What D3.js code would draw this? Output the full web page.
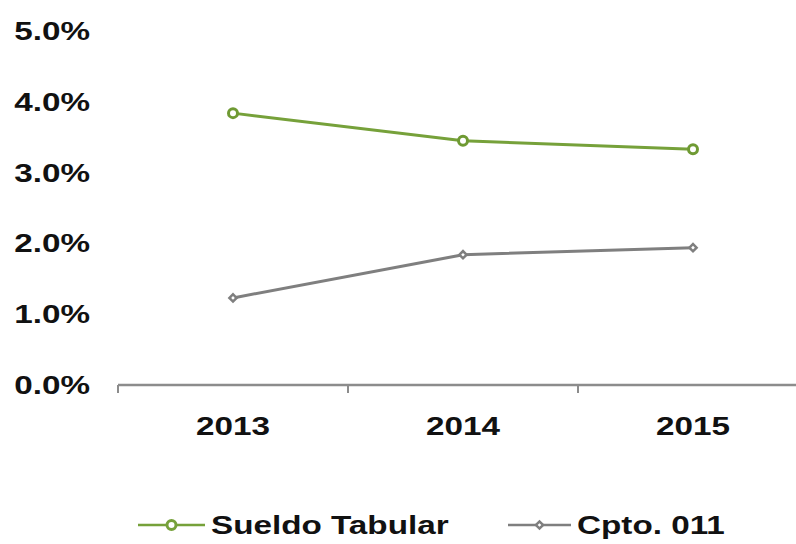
<!DOCTYPE html>
<html>
<head>
<meta charset="utf-8">
<script src="https://cdn.jsdelivr.net/npm/d3@7"></script>
<style>
  body { margin: 0; background: #fff; }
  text { font-family: "Liberation Sans", Arial, sans-serif; font-weight: bold; fill: #111; }
</style>
</head>
<body>
<script>
var years = ["2013", "2014", "2015"];
var sueldoTabular = [3.84, 3.45, 3.33];
var cpto011 = [1.23, 1.84, 1.94];
var yTicks = [0, 1, 2, 3, 4, 5];
var seriesNames = ["Sueldo Tabular", "Cpto. 011"];

var W = 796, H = 544;
var stretch = 1.33; // the picture's text is drawn wide

var svg = d3.select("body").append("svg")
    .attr("width", W)
    .attr("height", H);

var x = d3.scaleBand().domain(years).range([118, 808]);
var y = d3.scaleLinear().domain([0, 5]).range([385, 31]);

// y labels, no axis line
svg.selectAll("text.ylab")
    .data(yTicks)
    .enter().append("text")
    .attr("class", "ylab")
    .attr("transform", function (d) { return "translate(90," + y(d) + ") scale(" + stretch + ",1)"; })
    .attr("text-anchor", "end")
    .attr("dy", "0.36em")
    .attr("font-size", 25)
    .text(function (d) { return d.toFixed(1) + "%"; });

// x axis
var xAxis = svg.append("g").attr("transform", "translate(0," + y(0) + ")");
xAxis.append("line")
    .attr("x1", x.range()[0]).attr("x2", W)
    .attr("stroke", "#8c8c8c").attr("stroke-width", 2.5);
xAxis.selectAll("line.tick")
    .data(years)
    .enter().append("line")
    .attr("class", "tick")
    .attr("x1", function (d) { return x(d); })
    .attr("x2", function (d) { return x(d); })
    .attr("y1", 0).attr("y2", 8)
    .attr("stroke", "#8c8c8c").attr("stroke-width", 2);
xAxis.selectAll("text")
    .data(years)
    .enter().append("text")
    .attr("transform", function (d) { return "translate(" + (x(d) + x.bandwidth() / 2) + ",50) scale(" + stretch + ",1)"; })
    .attr("text-anchor", "middle")
    .attr("font-size", 25)
    .text(function (d) { return d; });

var cx = function (d, i) { return x(years[i]) + x.bandwidth() / 2; };
var line = d3.line().x(cx).y(function (d) { return y(d); });

// Cpto. 011 (gray, diamonds = squares turned 45deg)
svg.append("path")
    .datum(cpto011)
    .attr("d", line)
    .attr("fill", "none")
    .attr("stroke", "#7f7f7f")
    .attr("stroke-width", 3);
var diamond = d3.symbol().type(d3.symbolSquare).size(26);
svg.selectAll("path.dia")
    .data(cpto011)
    .enter().append("path")
    .attr("class", "dia")
    .attr("d", diamond)
    .attr("transform", function (d, i) { return "translate(" + cx(d, i) + "," + y(d) + ") rotate(45)"; })
    .attr("fill", "#fff")
    .attr("stroke", "#7f7f7f")
    .attr("stroke-width", 2.5);

// Sueldo Tabular (green, circles)
svg.append("path")
    .datum(sueldoTabular)
    .attr("d", line)
    .attr("fill", "none")
    .attr("stroke", "#76a13a")
    .attr("stroke-width", 3);
svg.selectAll("circle.st")
    .data(sueldoTabular)
    .enter().append("circle")
    .attr("class", "st")
    .attr("cx", cx)
    .attr("cy", function (d) { return y(d); })
    .attr("r", 4.5)
    .attr("fill", "#fff")
    .attr("stroke", "#6f9a33")
    .attr("stroke-width", 3);

// legend
var legY = 525;
var leg = [
  { name: seriesNames[0], color: "#76a13a", x1: 138, x2: 205, tx: 211, mark: "circle" },
  { name: seriesNames[1], color: "#7f7f7f", x1: 508, x2: 571, tx: 577, mark: "diamond" }
];
leg.forEach(function (l) {
  svg.append("line")
      .attr("x1", l.x1).attr("x2", l.x2)
      .attr("y1", legY).attr("y2", legY)
      .attr("stroke", l.color).attr("stroke-width", 2.5);
  var mx = (l.x1 + l.x2) / 2;
  if (l.mark === "circle") {
    svg.append("circle").attr("cx", mx).attr("cy", legY).attr("r", 4.5)
        .attr("fill", "#fff").attr("stroke", l.color).attr("stroke-width", 3);
  } else {
    svg.append("path").attr("d", diamond)
        .attr("transform", "translate(" + mx + "," + legY + ") rotate(45)")
        .attr("fill", "#fff").attr("stroke", l.color).attr("stroke-width", 2.5);
  }
  svg.append("text")
      .attr("transform", "translate(" + l.tx + "," + legY + ") scale(" + stretch + ",1)")
      .attr("dy", "0.36em")
      .attr("font-size", 25)
      .text(l.name);
});
</script>
</body>
</html>
